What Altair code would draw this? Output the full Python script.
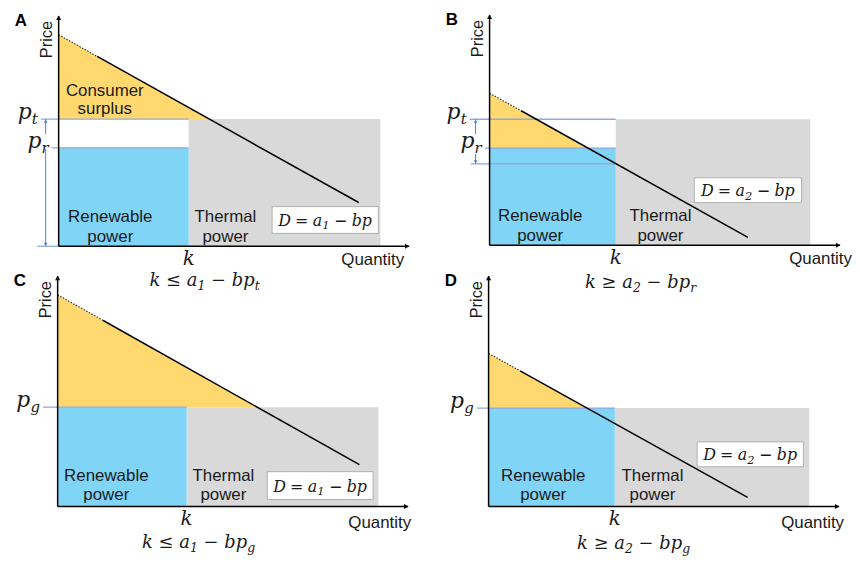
import altair as alt
import pandas as pd

# ------------------------------------------------------------------
# Data (quantity / price units, axes run 0..10)
# ------------------------------------------------------------------
PANELS = ["A", "B", "C", "D"]
AXIS_Q_MAX = [10.0, 10.0, 10.0, 10.0]
AXIS_P_MAX = [10.0, 10.0, 10.0, 10.0]

DEMAND_P0 = [9.18, 6.60, 9.18, 6.64]        # demand line at Q = 0
DEMAND_DOT_Q = [1.10, 0.90, 1.30, 0.90]     # end of dotted start of the line
DEMAND_DOT_P = [8.24, 5.84, 8.07, 5.88]
DEMAND_Q_END = [8.56, 7.37, 8.61, 7.39]
DEMAND_P_END = [1.90, 0.34, 1.81, 0.39]

CAPACITY_K = [3.71, 3.60, 3.68, 3.60]
GRAY_TOP = [5.52, 5.47, 4.31, 4.27]         # p_t (A, B) / p_g (C, D)
BLUE_TOP = [4.27, 4.22, 4.31, 4.27]         # p_r (A, B) / p_g (C, D)
GRAY_Q_END = [9.18, 9.15, 9.15, 9.15]
SURPLUS_FLOOR = [5.52, 4.22, 4.31, 4.27]
SURPLUS_Q_END = [4.30, 2.80, 5.69, 2.80]

BOX_Q0 = [6.09, 5.84, 5.98, 5.95]
BOX_Q1 = [9.12, 8.90, 9.00, 8.98]
BOX_P0 = [0.56, 1.85, 0.30, 1.72]
BOX_P1 = [1.72, 2.93, 1.51, 2.80]
DEMAND_SUB = ["1", "2", "1", "2"]

FORMULA_REL = ["\u2264", "\u2265", "\u2264", "\u2265"]
FORMULA_PRICE_SUB = ["t", "r", "g", "g"]

GUIDE_PANEL = [0, 0, 0, 1, 1, 1, 2, 3]
GUIDE_P = [5.52, 4.27, 0.00, 5.47, 4.22, 3.53, 4.31, 4.27]
GUIDE_Q_START = [-0.51, -0.20, -0.62, -0.57, -0.14, -0.54, -0.42, -0.34]
GUIDE_Q_END = [3.71, 3.71, 0.00, 3.60, 3.60, 3.60, 3.68, 3.60]

PRICE_LABEL_PANEL = [0, 0, 1, 1, 2, 3]
PRICE_LABEL_SUB = ["t", "r", "t", "r", "g", "g"]
PRICE_LABEL_Q = [-0.51, -0.20, -0.57, -0.14, -0.42, -0.34]
PRICE_LABEL_P = [5.52, 4.27, 5.47, 4.22, 4.31, 4.27]

ARROW_PANEL = [0, 0, 1, 1]
ARROW_Q = [-0.37, -0.37, -0.40, -0.40]
ARROW_P_FROM = [4.87, 4.22, 4.83, 3.96]
ARROW_P_TO = [5.52, 0.00, 5.47, 3.53]

RENEWABLE_LINES = ["Renewable", "power"]
THERMAL_LINES = ["Thermal", "power"]
SURPLUS_LINES = ["Consumer", "surplus"]

# ------------------------------------------------------------------
# Layout and style
# ------------------------------------------------------------------
W, H = 422, 273
SX, SY = 35.3, 23.2
ORIGIN_PX = [(51, 238), (63, 237), (50, 227), (62, 227)]
QUANTITY_DX = [-5, 12, 3, 5]
QUANTITY_DY = [19, 19, 22, 22]
RENEW_DX = [52, 51, 49, 55]
THERMAL_DX = [37, 45, 37, 38]
LINE1_DY = [-24, -24, -26, -26]
FORMULA_DX = [16, 25, 12, 19]
FORMULA_DY = [40, 43, 42, 43]

SANS = "Liberation Sans"
SERIF = "DejaVu Serif"
INK = "#1a1a1a"
GRAY = "#d9d9d9"
BLUE = "#80d4f6"
YELLOW = "#ffd970"
GUIDE_BLUE = "#8faadc"
ARROW_BLUE = "#4f7fd0"

CHAR_W = {"k": .61, "a": .596, "b": .642, "p": .642, "t": .401, "r": .479,
          "g": .642, "D": .77, "1": .636, "2": .636, "=": .838, "\u2212": .838,
          "\u2264": .838, "\u2265": .838}
GAP_EM = 0.32


def tw(s, fs):
    return sum(CHAR_W.get(c, 0.6) for c in s) * fs


def enc(xs, ys, x="q", y="p", x2=None, y2=None):
    e = dict(x=alt.X(f"{x}:Q", scale=xs, axis=None),
             y=alt.Y(f"{y}:Q", scale=ys, axis=None))
    if x2:
        e["x2"] = alt.X2(x2)
    if y2:
        e["y2"] = alt.Y2(y2)
    return e


def point_df(q, p):
    return pd.DataFrame({"q": [q], "p": [p]})


def math_layers(df, xs, ys, pieces, fs, sub_fs, drop, align, dx0, dy0, gap_em=GAP_EM):
    """pieces: list of (text, kind) with kind 'm' (main), 's' (subscript), 'g' (gap)."""
    widths = []
    for t, kind in pieces:
        if kind == "g":
            widths.append(gap_em * fs)
        else:
            widths.append(tw(t, sub_fs if kind == "s" else fs))
    total = sum(widths)
    start = dx0 - (total / 2 if align == "center" else total if align == "right" else 0)
    out = []
    x = start
    for (t, kind), w in zip(pieces, widths):
        if kind != "g":
            s = kind == "s"
            out.append(alt.Chart(df).mark_text(
                text=t, align="left", baseline="alphabetic", font=SERIF,
                fontStyle="italic", fontSize=sub_fs if s else fs, color=INK,
                dx=x, dy=dy0 + (drop if s else 0)).encode(**enc(xs, ys)))
        x += w
    return out


def panel(i):
    ox, oy = ORIGIN_PX[i]
    xs = alt.Scale(domain=[-ox / SX, (W - ox) / SX], nice=False, zero=False)
    ys = alt.Scale(domain=[-(H - oy) / SY, oy / SY], nice=False, zero=False)
    k = CAPACITY_K[i]
    L = []

    gray = pd.DataFrame({"q": [k], "q1": [GRAY_Q_END[i]], "p": [0.0], "p1": [GRAY_TOP[i]]})
    L.append(alt.Chart(gray).mark_rect(color=GRAY).encode(**enc(xs, ys, x2="q1", y2="p1")))
    blue = pd.DataFrame({"q": [0.0], "q1": [k], "p": [0.0], "p1": [BLUE_TOP[i]]})
    L.append(alt.Chart(blue).mark_rect(color=BLUE).encode(**enc(xs, ys, x2="q1", y2="p1")))
    surplus = pd.DataFrame({"q": [0.0, SURPLUS_Q_END[i]],
                            "p": [DEMAND_P0[i], SURPLUS_FLOOR[i]],
                            "p1": [SURPLUS_FLOOR[i], SURPLUS_FLOOR[i]]})
    L.append(alt.Chart(surplus).mark_area(color=YELLOW, opacity=1, orient="vertical")
             .encode(**enc(xs, ys, y2="p1")))

    box = pd.DataFrame({"q": [BOX_Q0[i]], "q1": [BOX_Q1[i]], "p": [BOX_P0[i]], "p1": [BOX_P1[i]]})
    L.append(alt.Chart(box).mark_rect(fill="white", stroke="#b0b0b0", strokeWidth=1)
             .encode(**enc(xs, ys, x2="q1", y2="p1")))

    gi = [j for j, pnl in enumerate(GUIDE_PANEL) if pnl == i]
    guides = pd.DataFrame({"q": [GUIDE_Q_START[j] for j in gi],
                           "q1": [GUIDE_Q_END[j] for j in gi],
                           "p": [GUIDE_P[j] for j in gi]})
    L.append(alt.Chart(guides).mark_rule(color=GUIDE_BLUE, strokeWidth=1.3)
             .encode(**enc(xs, ys, x2="q1")))

    ai = [j for j, pnl in enumerate(ARROW_PANEL) if pnl == i]
    if ai:
        arr = pd.DataFrame({"q": [ARROW_Q[j] for j in ai],
                            "p": [ARROW_P_FROM[j] for j in ai],
                            "p1": [ARROW_P_TO[j] for j in ai]})
        L.append(alt.Chart(arr).mark_rule(color=ARROW_BLUE, strokeWidth=1)
                 .encode(**enc(xs, ys, y2="p1")))
        up = pd.DataFrame({"q": [ARROW_Q[j] for j in ai if ARROW_P_TO[j] > ARROW_P_FROM[j]],
                           "p": [ARROW_P_TO[j] for j in ai if ARROW_P_TO[j] > ARROW_P_FROM[j]]})
        dn = pd.DataFrame({"q": [ARROW_Q[j] for j in ai if ARROW_P_TO[j] < ARROW_P_FROM[j]],
                           "p": [ARROW_P_TO[j] for j in ai if ARROW_P_TO[j] < ARROW_P_FROM[j]]})
        L.append(alt.Chart(up).mark_point(shape="triangle-up", filled=True, size=14,
                                          color=ARROW_BLUE, opacity=1, yOffset=2)
                 .encode(**enc(xs, ys)))
        L.append(alt.Chart(dn).mark_point(shape="triangle-down", filled=True, size=14,
                                          color=ARROW_BLUE, opacity=1, yOffset=-2)
                 .encode(**enc(xs, ys)))

    dotted = pd.DataFrame({"q": [0.0, DEMAND_DOT_Q[i]], "p": [DEMAND_P0[i], DEMAND_DOT_P[i]]})
    L.append(alt.Chart(dotted).mark_line(color="#333333", strokeWidth=1.2, strokeDash=[1.5, 1.5])
             .encode(**enc(xs, ys)))
    solid = pd.DataFrame({"q": [DEMAND_DOT_Q[i], DEMAND_Q_END[i]],
                          "p": [DEMAND_DOT_P[i], DEMAND_P_END[i]]})
    L.append(alt.Chart(solid).mark_line(color="black", strokeWidth=1.5).encode(**enc(xs, ys)))

    xaxis = pd.DataFrame({"q": [0.0], "q1": [AXIS_Q_MAX[i]], "p": [0.0]})
    L.append(alt.Chart(xaxis).mark_rule(color="black", strokeWidth=1.5)
             .encode(**enc(xs, ys, x2="q1")))
    yaxis = pd.DataFrame({"q": [0.0], "p": [0.0], "p1": [AXIS_P_MAX[i]]})
    L.append(alt.Chart(yaxis).mark_rule(color="black", strokeWidth=1.5)
             .encode(**enc(xs, ys, y2="p1")))
    L.append(alt.Chart(point_df(0.0, AXIS_P_MAX[i])).mark_point(
        shape="triangle-up", filled=True, size=26, color="black", opacity=1, yOffset=2)
        .encode(**enc(xs, ys)))
    L.append(alt.Chart(point_df(AXIS_Q_MAX[i], 0.0)).mark_point(
        shape="triangle-right", filled=True, size=26, color="black", opacity=1, xOffset=-2)
        .encode(**enc(xs, ys)))

    top = point_df(0.0, AXIS_P_MAX[i])
    L.append(alt.Chart(top).mark_text(text=PANELS[i], font=SANS, fontWeight="bold",
                                      fontSize=17, color="black", align="center",
                                      baseline="middle", dx=-38, dy=5)
             .encode(**enc(xs, ys)))
    L.append(alt.Chart(top).mark_text(text="Price", font=SANS, fontSize=16.5, color=INK,
                                      angle=270, align="right", baseline="middle",
                                      dx=-5, dy=-12)
             .encode(**enc(xs, ys)))
    L.append(alt.Chart(point_df(AXIS_Q_MAX[i], 0.0)).mark_text(
        text="Quantity", font=SANS, fontSize=17, color=INK, align="right",
        baseline="alphabetic", dx=QUANTITY_DX[i], dy=QUANTITY_DY[i])
        .encode(**enc(xs, ys)))

    korigin = point_df(k, 0.0)
    L.append(alt.Chart(korigin).mark_text(text="k", font=SERIF, fontStyle="italic",
                                          fontSize=20, color=INK, align="center",
                                          baseline="alphabetic", dy=19)
             .encode(**enc(xs, ys)))

    origin = point_df(0.0, 0.0)
    for n, line in enumerate(RENEWABLE_LINES):
        L.append(alt.Chart(origin).mark_text(text=line, font=SANS, fontSize=17, color=INK,
                                             align="center", baseline="alphabetic",
                                             dx=RENEW_DX[i], dy=LINE1_DY[i] + 20 * n)
                 .encode(**enc(xs, ys)))
    for n, line in enumerate(THERMAL_LINES):
        L.append(alt.Chart(korigin).mark_text(text=line, font=SANS, fontSize=17, color=INK,
                                              align="center", baseline="alphabetic",
                                              dx=THERMAL_DX[i], dy=LINE1_DY[i] + 20 * n)
                 .encode(**enc(xs, ys)))
    if i == 0:
        cs = point_df(0.0, SURPLUS_FLOOR[i])
        for n, line in enumerate(SURPLUS_LINES):
            L.append(alt.Chart(cs).mark_text(text=line, font=SANS, fontSize=17, color=INK,
                                             align="center", baseline="alphabetic",
                                             dx=46.5, dy=-23 + 18 * n)
                     .encode(**enc(xs, ys)))

    # price labels p_t, p_r, p_g
    for j, pnl in enumerate(PRICE_LABEL_PANEL):
        if pnl != i:
            continue
        L += math_layers(point_df(PRICE_LABEL_Q[j], PRICE_LABEL_P[j]), xs, ys,
                         [("p", "m"), (PRICE_LABEL_SUB[j], "s")],
                         22, 15, 5, "right", -3, 0)

    # demand formula in the box
    bc = point_df((BOX_Q0[i] + BOX_Q1[i]) / 2, (BOX_P0[i] + BOX_P1[i]) / 2)
    L += math_layers(bc, xs, ys,
                     [("D", "m"), ("", "g"), ("=", "m"), ("", "g"), ("a", "m"),
                      (DEMAND_SUB[i], "s"), ("", "g"), ("\u2212", "m"), ("", "g"),
                      ("bp", "m")],
                     16, 11.5, 3.5, "center", 0, 6, gap_em=0.28)

    # condition below the axis
    L += math_layers(korigin, xs, ys,
                     [("k", "m"), ("", "g"), (FORMULA_REL[i], "m"), ("", "g"), ("a", "m"),
                      (DEMAND_SUB[i], "s"), ("", "g"), ("\u2212", "m"), ("", "g"),
                      ("bp", "m"), (FORMULA_PRICE_SUB[i], "s")],
                     18, 12.5, 4, "center", FORMULA_DX[i], FORMULA_DY[i])

    return alt.layer(*L).properties(width=W, height=H)


chart = (alt.concat(*[panel(i) for i in range(4)], columns=2, spacing=0, bounds="flush")
         .properties(padding=0)
         .configure_view(stroke=None))

chart.save("out.html", embed_options={"renderer": "svg", "actions": False})
